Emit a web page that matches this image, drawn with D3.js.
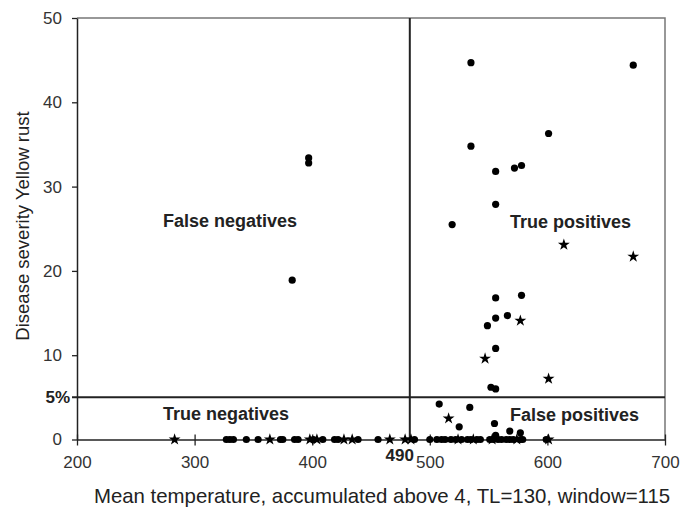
<!DOCTYPE html>
<html>
<head>
<meta charset="utf-8">
<script src="https://cdn.jsdelivr.net/npm/d3@7"></script>
<style>
  html, body { margin: 0; padding: 0; background: #fff; }
  svg { display: block; }
  text { font-family: Arial, "Liberation Sans", sans-serif; }
</style>
</head>
<body>
<svg id="chart" width="681" height="509"></svg>
<script>
// ---- data ----
const xTicks = [200, 300, 400, 500, 600, 700];
const yTicks = [0, 10, 20, 30, 40, 50];
const xLabel = "Mean temperature, accumulated above 4, TL=130, window=115";
const yLabel = "Disease severity Yellow rust";
const thresholdX = 483;          // where the vertical threshold line sits
const thresholdXLabel = "490";
const thresholdY = 5;
const thresholdYLabel = "5%";
const quadrantLabels = ["False negatives", "True positives", "True negatives", "False positives"];

// circles (x, severity)
const circleX = [535, 673, 601, 535, 556, 572, 578, 556, 519, 397, 397, 383, 556, 578, 556, 566, 549, 556, 552, 556, 508, 534, 525, 555, 568, 577, 556,
  327, 330, 333, 344, 354, 373, 375, 385, 388, 401, 409, 419, 422, 439, 456, 487, 500, 506, 510, 513, 518, 522, 527, 532, 535, 540, 543, 551, 554, 558, 561, 565, 568, 571, 577, 579, 599];
const circleY = [44.7, 44.4, 36.3, 34.8, 31.8, 32.2, 32.5, 27.9, 25.5, 33.4, 32.8, 18.9, 16.8, 17.1, 14.4, 14.7, 13.5, 10.8, 6.2, 6.0, 4.2, 3.8, 1.5, 1.9, 1.0, 0.8, 0.5,
  0, 0, 0, 0, 0, 0, 0, 0, 0, 0, 0, 0, 0, 0, 0, 0, 0, 0, 0, 0, 0, 0, 0, 0, 0, 0, 0, 0, 0, 0, 0, 0, 0, 0, 0, 0, 0];
// stars (x, severity)
const starX = [614, 673, 577, 547, 601, 516, 283, 364, 398, 404, 427, 434, 466, 479, 484, 524, 537, 553, 574, 601];
const starY = [23.1, 21.7, 14.1, 9.6, 7.2, 2.5, 0, 0, 0, 0, 0, 0, 0, 0, 0, 0, 0, 0, 0, 0];

// ---- chart ----
const svg = d3.select("#chart");
const mLeft = 77, mRight = 665, mTop = 18, mBottom = 439.5;
const x = d3.scaleLinear().domain([200, 700]).range([mLeft, mRight]);
const y = d3.scaleLinear().domain([0, 50]).range([mBottom, mTop]);

// frame (top & right)
svg.append("path")
  .attr("d", `M${mLeft},${mTop}H${mRight}V${mBottom}`)
  .attr("fill", "none").attr("stroke", "#777").attr("stroke-width", 1.5);

// y axis
const gy = svg.append("g").attr("transform", `translate(${mLeft},0)`)
  .call(d3.axisLeft(y).tickValues(yTicks).tickSize(5).tickSizeOuter(0).tickPadding(10));
gy.select(".domain").attr("stroke", "#222").attr("stroke-width", 1.5);
gy.selectAll(".tick line").attr("stroke", "#222").attr("stroke-width", 1.3);
gy.selectAll(".tick text").attr("font-size", 17).attr("fill", "#333")
  .style("font-family", "Arial, 'Liberation Sans', sans-serif");

// x axis
const gx = svg.append("g").attr("transform", `translate(0,${mBottom})`)
  .call(d3.axisBottom(x).tickValues(xTicks).tickSize(6).tickSizeOuter(0).tickPadding(10));
gx.select(".domain").attr("stroke", "#222").attr("stroke-width", 1.5);
gx.selectAll(".tick line").attr("y1", -5).attr("stroke", "#222").attr("stroke-width", 1.3);
gx.selectAll(".tick text").attr("font-size", 17).attr("fill", "#333")
  .style("font-family", "Arial, 'Liberation Sans', sans-serif");

// threshold lines
svg.append("line")
  .attr("x1", mLeft - 5).attr("x2", mRight)
  .attr("y1", y(thresholdY)).attr("y2", y(thresholdY))
  .attr("stroke", "#222").attr("stroke-width", 2);
svg.append("line")
  .attr("x1", x(thresholdX)).attr("x2", x(thresholdX))
  .attr("y1", mTop).attr("y2", mBottom)
  .attr("stroke", "#222").attr("stroke-width", 2);

// threshold labels
svg.append("text").text(thresholdYLabel)
  .attr("x", mLeft - 7).attr("y", y(thresholdY)).attr("dy", "0.35em")
  .attr("text-anchor", "end").attr("font-size", 17).attr("font-weight", "bold").attr("fill", "#222");
svg.append("text").text(thresholdXLabel)
  .attr("x", x(thresholdX) - 10).attr("y", 461)
  .attr("text-anchor", "middle").attr("font-size", 17).attr("font-weight", "bold").attr("fill", "#222");

// quadrant labels
const qPos = [[163, 227], [510, 228], [163, 420], [510, 421]];
quadrantLabels.forEach((t, i) => {
  svg.append("text").text(t)
    .attr("x", qPos[i][0]).attr("y", qPos[i][1])
    .attr("font-size", 18).attr("font-weight", "bold").attr("fill", "#222");
});

// points
const circles = circleX.map((v, i) => ({x: v, y: circleY[i]}));
const stars = starX.map((v, i) => ({x: v, y: starY[i]}));
svg.append("g").selectAll("circle").data(circles).join("circle")
  .attr("cx", d => x(d.x)).attr("cy", d => y(d.y)).attr("r", 3.6).attr("fill", "#000");
svg.append("g").selectAll("path").data(stars).join("path")
  .attr("transform", d => `translate(${x(d.x)},${y(d.y)})`)
  .attr("d", d3.symbol().type(d3.symbolStar).size(44)).attr("fill", "#000");

// axis titles
svg.append("text").text(xLabel)
  .attr("x", 382).attr("y", 503).attr("text-anchor", "middle")
  .attr("font-size", 20.4).attr("fill", "#222");
svg.append("text").text(yLabel)
  .attr("transform", `translate(29,226) rotate(-90)`)
  .attr("text-anchor", "middle").attr("font-size", 18.5).attr("fill", "#222");
</script>
</body>
</html>
